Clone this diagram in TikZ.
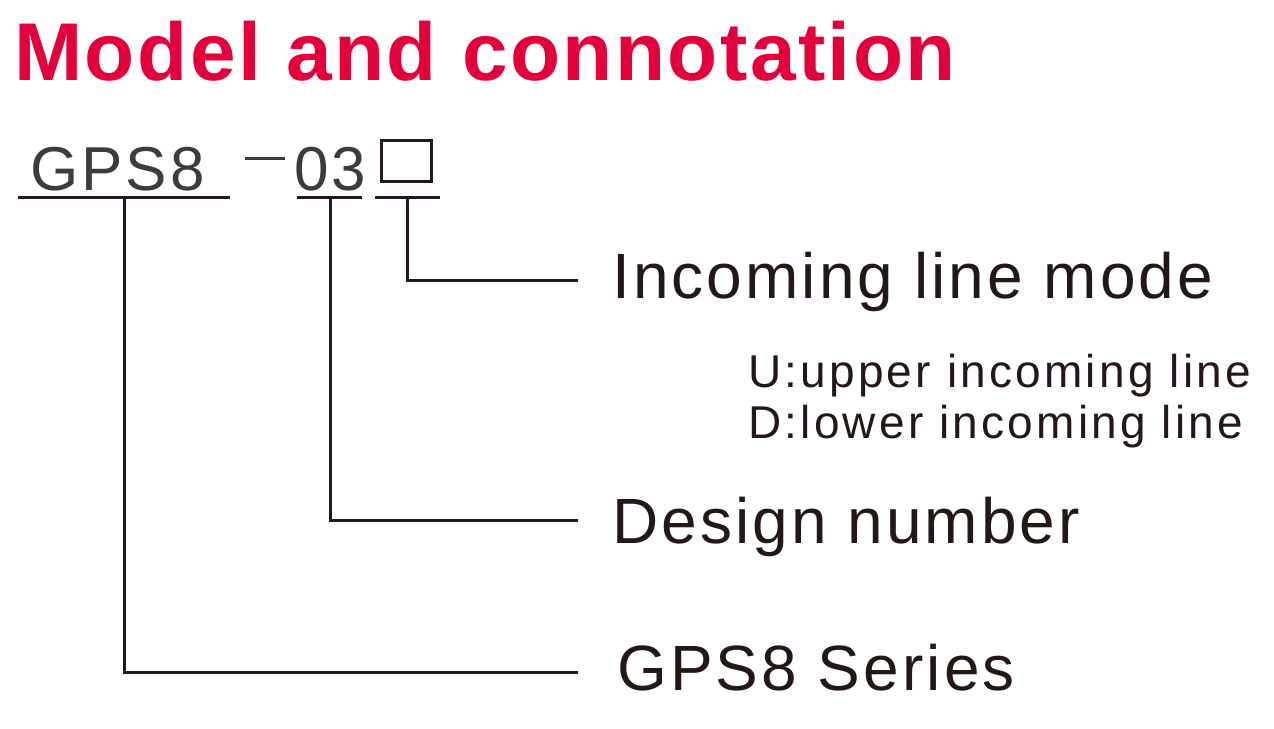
\documentclass[tikz,border=0pt]{standalone}
\usepackage{fontspec}
\setmainfont{Liberation Sans}
\newfontfamily\spaced[LetterSpace=4.8]{Liberation Sans}
\newfontfamily\spacedsub[LetterSpace=7]{Liberation Sans}
\newfontfamily\titlefont[LetterSpace=3]{Liberation Sans}
\definecolor{titlered}{RGB}{228,0,58}
\definecolor{ink}{RGB}{35,24,21}
\definecolor{codegrey}{RGB}{60,60,60}
\tikzset{
  lbl/.style={anchor=base west,inner sep=0pt,text=ink,font=\spaced\fontsize{64}{70}\selectfont},
  sub/.style={anchor=base west,inner sep=0pt,text=ink,font=\spacedsub\fontsize{46}{50}\selectfont},
  code/.style={anchor=base west,inner sep=0pt,text=codegrey,font=\spaced\fontsize{62}{70}\selectfont},
  conn/.style={line width=3pt,draw=ink}
}
\begin{document}
\begin{tikzpicture}[x=1pt,y=-1pt]
\useasboundingbox (0,0) rectangle (1274,728);
\node[anchor=base west,inner sep=0pt,text=titlered,font=\titlefont\fontsize{82}{90}\selectfont\bfseries] (title) at (14,80) {Model and connotation};
\node[code] (gps) at (30,190) {GPS8};
\draw[line width=3pt,codegrey] (245,158) -- (285,158);
\node[code] (n03) at (294,190) {03};
\node[draw=ink,line width=3pt,minimum width=50pt,minimum height=41pt,inner sep=0pt] (box) at (406,161) {};
\coordinate (u1a) at (18,197); \coordinate (u1b) at (230,197);
\coordinate (u2a) at (297,197); \coordinate (u2b) at (362,197);
\coordinate (u3a) at (375,197); \coordinate (u3b) at (440,197);
\draw[conn] (u1a) -- (u1b);
\draw[conn] (u2a) -- (u2b);
\draw[conn] (u3a) -- (u3b);
\node[lbl] (inc) at (612,298) {Incoming line mode};
\node[sub] (u) at (748,387) {U:upper incoming line};
\node[sub] (d) at (748,438) {D:lower incoming line};
\node[lbl] (des) at (612,543) {Design number};
\node[lbl] (ser) at (617,690) {GPS8\ Series};
\coordinate (c3) at (407,280); \coordinate (e3) at (578,280);
\coordinate (c2) at (330,520); \coordinate (e2) at (578,520);
\coordinate (c1) at (124,672); \coordinate (e1) at (578,672);
\draw[conn] (407,197) -- (c3) -- (e3);
\draw[conn] (330,197) -- (c2) -- (e2);
\draw[conn] (124,197) -- (c1) -- (e1);
\end{tikzpicture}
\end{document}
